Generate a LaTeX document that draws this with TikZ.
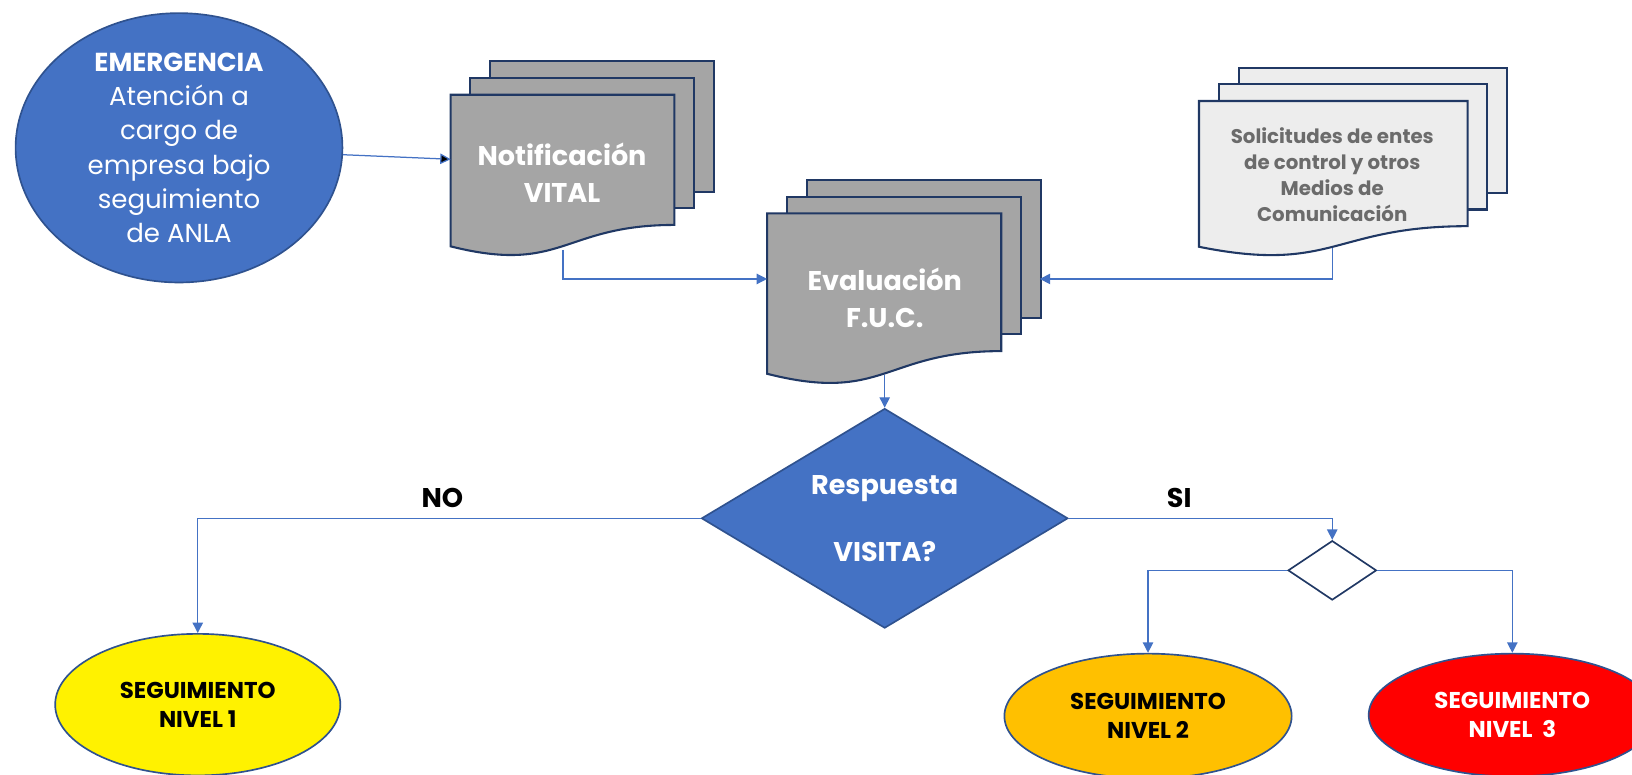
\documentclass[tikz,border=0pt]{standalone}
\usepackage{fontspec}
\setmainfont{Poppins}
\usetikzlibrary{arrows.meta,shapes.geometric}

\definecolor{azul}{HTML}{4472C4}
\definecolor{azulborde}{HTML}{2F528F}
\definecolor{navy}{HTML}{203864}
\definecolor{docgris}{HTML}{A5A5A5}
\definecolor{docclaro}{HTML}{EDEDED}
\definecolor{textogris}{HTML}{6B6B6B}
\definecolor{naranja}{HTML}{FFC000}

% page stack: x, y of front page top-left, width, height, fill
\newcommand{\docstack}[5]{
	\draw[docline,fill=#5] ({#1+38},{#2-32}) rectangle ({#1+#3+38},{#2+0.802*#4-32});
	\draw[docline,fill=#5] ({#1+19},{#2-16}) rectangle ({#1+#3+19},{#2+0.802*#4-16});
	\draw[docline,fill=#5] (#1,#2) -- ({#1+#3},#2) -- ({#1+#3},{#2+0.802*#4})
		.. controls ({#1+0.5*#3},{#2+0.802*#4}) and ({#1+0.5*#3},{#2+1.1075*#4}) .. (#1,{#2+0.934*#4}) -- cycle;
}

\tikzset{
	docline/.style={draw=navy,line width=1pt},
	flecha/.style={draw=azul,line width=0.6pt,-{Triangle[length=5pt,width=5pt]}},
	burbuja/.style={ellipse,draw=azulborde,line width=0.8pt,inner sep=0pt,align=center},
	rombo/.style={diamond,draw=navy,line width=0.8pt,inner sep=0pt},
	doctexto/.style={align=center,font=\bfseries\fontsize{13}{18}\selectfont,text=white},
	etiqueta/.style={font=\bfseries\fontsize{13}{16}\selectfont},
	nivel/.style={font=\bfseries\fontsize{11}{14}\selectfont}
}

\begin{document}
\begin{tikzpicture}[x=0.5pt,y=-0.5pt]
	\useasboundingbox (0,0) rectangle (1568,744);

	\node[burbuja,fill=azul,text=white,minimum width=157pt,minimum height=126pt,
		font=\fontsize{12.5}{16.5}\selectfont] (emerg) at (172,142)
		{\textbf{EMERGENCIA}\\Atención a\\cargo de\\empresa bajo\\seguimiento\\de ANLA};

	\docstack{433}{91}{215}{156}{docgris}
	\docstack{737}{205}{225}{165}{docgris}
	\docstack{1152}{97}{258}{150}{docclaro}

	\node[doctexto] (notif) at (540,166) {Notificación\\VITAL};
	\node[doctexto,font=\bfseries\fontsize{13}{17.5}\selectfont] (eval) at (850,286) {Evaluación\\F.U.C.};
	\node[doctexto,text=textogris,font=\bfseries\fontsize{9.5}{12.5}\selectfont] (solic) at (1280,168)
		{Solicitudes de entes\\de control y otros\\Medios de\\Comunicación};

	\coordinate (notif-in) at (433,153);
	\coordinate (notif-out) at (541,240);
	\coordinate (eval-in) at (737,268);
	\coordinate (eval-back) at (999,268);
	\coordinate (eval-out) at (850,360);
	\coordinate (solic-out) at (1280,238);

	\node[rombo,fill=azul,draw=azulborde,minimum width=176pt,minimum height=105.5pt] (visita) at (850,498) {};
	\node[doctexto,font=\bfseries\fontsize{13}{16}\selectfont] (visita-txt) at (visita.center)
		{Respuesta\\[16pt]VISITA?};
	\node[rombo,fill=white,minimum width=42.5pt,minimum height=28.5pt] (nivel) at (1280,548) {};

	\node[burbuja,fill=yellow,minimum width=137pt,minimum height=68pt,nivel] (seg1) at (190,677)
		{SEGUIMIENTO\\NIVEL 1};
	\node[burbuja,fill=naranja,minimum width=138pt,minimum height=60pt,nivel] (seg2) at (1103,688)
		{SEGUIMIENTO\\NIVEL 2};
	\node[burbuja,fill=red,text=white,minimum width=138pt,minimum height=59pt,nivel] (seg3) at (1453,687)
		{SEGUIMIENTO\\NIVEL\ \ 3};

	\node[etiqueta] (no) at (425,478) {NO};
	\node[etiqueta] (si) at (1133,478) {SI};

	\path[flecha] (emerg) edge (notif-in);
	\draw[flecha] (notif-out) |- (eval-in);
	\draw[flecha] (solic-out) |- (eval-back);
	\draw[flecha] (eval-out) -- (visita.north);
	\draw[flecha] (visita.west) -| (seg1.north);
	\draw[flecha] (visita.east) -| (nivel.north);
	\draw[flecha] (nivel.west) -| (seg2.north);
	\draw[flecha] (nivel.east) -| (seg3.north);
\end{tikzpicture}
\end{document}
